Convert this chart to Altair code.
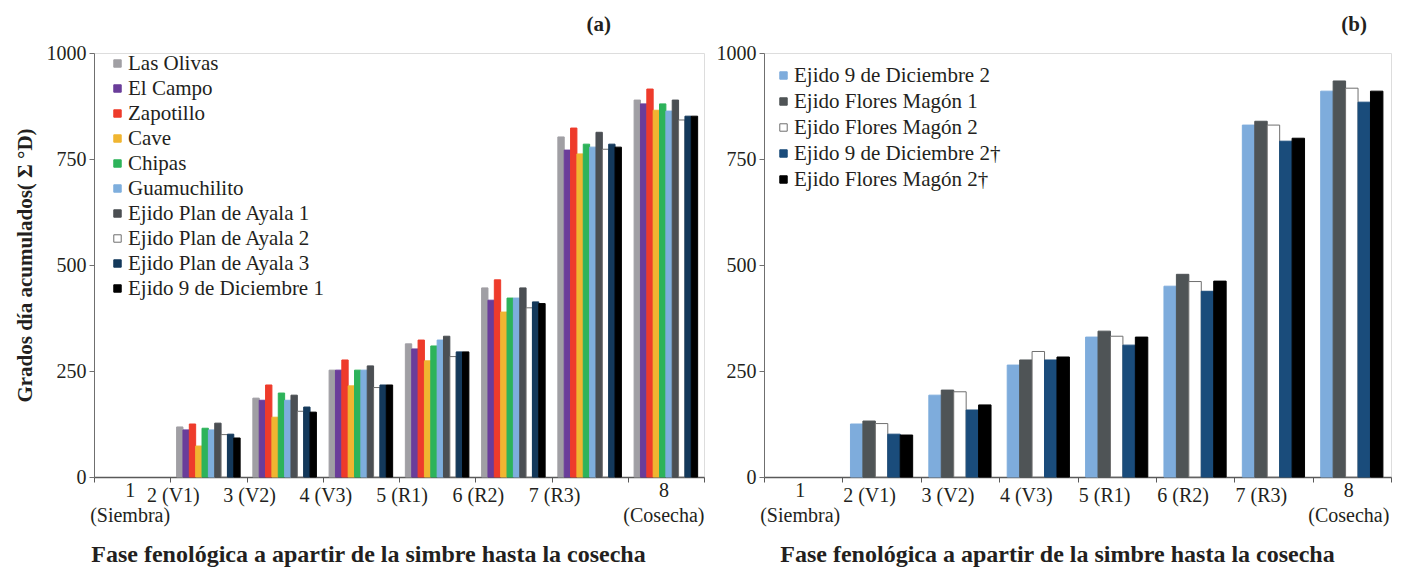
import altair as alt
import pandas as pd

FONT = "Liberation Serif"

stages = ["1\n(Siembra)", "2 (V1)", "3 (V2)", "4 (V3)", "5 (R1)", "6 (R2)", "7 (R3)", "8\n(Cosecha)"]

# Panel (a)
series_a = ["Las Olivas", "El Campo", "Zapotillo", "Cave", "Chipas", "Guamuchilito",
            "Ejido Plan de Ayala 1", "Ejido Plan de Ayala 2", "Ejido Plan de Ayala 3",
            "Ejido 9 de Diciembre 1"]
las_olivas = [0, 118, 186, 252, 314, 446, 802, 889]
el_campo = [0, 111, 181, 252, 302, 417, 771, 880]
zapotillo = [0, 125, 217, 276, 323, 465, 823, 915]
cave = [0, 73, 141, 215, 274, 389, 762, 865]
chipas = [0, 115, 198, 252, 309, 422, 785, 880]
guamuchilito = [0, 111, 181, 252, 323, 422, 778, 863]
epa1 = [0, 127, 193, 262, 332, 446, 813, 889]
epa2 = [0, 100, 155, 211, 284, 399, 773, 842]
epa3 = [0, 101, 165, 217, 295, 413, 785, 851]
e9d1 = [0, 92, 153, 217, 295, 409, 778, 851]
values_a = [las_olivas, el_campo, zapotillo, cave, chipas, guamuchilito, epa1, epa2, epa3, e9d1]
fills_a = ["#a09fa4", "#6a3d9a", "#ee3b2b", "#f0b531", "#2db35a", "#7eaedd",
           "#4b4f53", "#ffffff", "#14395b", "#000000"]
strokes_a = ["#a09fa4", "#6a3d9a", "#ee3b2b", "#f0b531", "#2db35a", "#7eaedd",
             "#4b4f53", "#6f6f6f", "#14395b", "#000000"]

# Panel (b)
series_b = ["Ejido 9 de Diciembre 2", "Ejido Flores Magón 1", "Ejido Flores Magón 2",
            "Ejido 9 de Diciembre 2†", "Ejido Flores Magón 2†"]
e9d2 = [0, 125, 193, 264, 330, 450, 830, 910]
efm1 = [0, 132, 205, 276, 344, 478, 839, 934]
efm2 = [0, 126, 201, 296, 332, 461, 830, 917]
e9d2d = [0, 101, 158, 276, 311, 438, 792, 884]
efm2d = [0, 99, 170, 283, 330, 462, 799, 910]
values_b = [e9d2, efm1, efm2, e9d2d, efm2d]
fills_b = ["#7eacdc", "#4f5456", "#ffffff", "#1a4c7b", "#000000"]
strokes_b = ["#7eacdc", "#4f5456", "#6f6f6f", "#1a4c7b", "#000000"]

x_title = "Fase fenológica a apartir de la simbre hasta la cosecha"
y_title = "Grados día acumulados( Σ °D)"

H = 424


def long_df(series, values):
    rows = []
    for s, vals in zip(series, values):
        for st, v in zip(stages, vals):
            rows.append({"stage": st, "series": s, "value": v})
    return pd.DataFrame(rows)


stage_df = pd.DataFrame({"stage": stages})


def panel(df, series, fills, strokes, label, width, sub_pad, legend_x, legend_y,
          row_pad, dx_mid, dx_end, title_dx, x_title_x, show_ytitle):
    legend = alt.Legend(
        title=None, orient="none", legendX=legend_x, legendY=legend_y,
        symbolType="square", symbolSize=55, symbolStrokeWidth=1,
        labelFont=FONT, labelFontSize=21, labelColor="#231f20",
        rowPadding=row_pad, labelLimit=400, labelOffset=0,
    )
    yaxis_kwargs = dict(
        values=[0, 250, 500, 750, 1000], format="d", grid=False, tickSize=5,
        tickColor="#6f6f6f", domainColor="#6f6f6f", labelFontSize=20,
        labelFont=FONT, labelColor="#231f20", labelPadding=3,
    )
    if show_ytitle:
        yaxis_kwargs.update(title=y_title, titleFont=FONT, titleFontSize=21,
                            titleFontWeight="bold", titleColor="#231f20",
                            titlePadding=11)
    else:
        yaxis_kwargs.update(title="")
    xaxis = alt.Axis(
        title=x_title, titleFont=FONT, titleFontSize=24, titleFontWeight="bold",
        titleColor="#231f20", titleX=x_title_x, titleY=84,
        titleBaseline="alphabetic", titleAnchor="middle",
        labels=False, tickSize=5, tickBand="extent", tickColor="#595959",
        domainColor="#595959", domainWidth=1.5,
    )
    xscale = alt.Scale(domain=stages, paddingInner=0, paddingOuter=0)
    bars = alt.Chart(df).transform_filter("datum.value > 0").mark_bar(strokeWidth=1).encode(
        x=alt.X("stage:N", sort=stages, scale=xscale, axis=xaxis),
        xOffset=alt.XOffset("series:N", sort=series,
                            scale=alt.Scale(domain=series, paddingInner=0,
                                            paddingOuter=sub_pad)),
        y=alt.Y("value:Q", scale=alt.Scale(domain=[0, 1000], nice=False),
                axis=alt.Axis(**yaxis_kwargs)),
        fill=alt.Fill("series:N", sort=series,
                      scale=alt.Scale(domain=series, range=fills), legend=legend),
        stroke=alt.Stroke("series:N", sort=series,
                          scale=alt.Scale(domain=series, range=strokes), legend=legend),
    )
    text_kw = dict(font=FONT, fontSize=20, color="#231f20", baseline="top",
                   align="center", lineBreak="\n", lineHeight=25)
    mid = alt.Chart(stage_df).transform_filter(
        "indexof(datum.stage, '\\n') < 0"
    ).mark_text(dx=dx_mid, **text_kw).encode(
        x=alt.X("stage:N", sort=stages), y=alt.value(H + 9), text="stage:N")
    ends = alt.Chart(stage_df).transform_filter(
        "indexof(datum.stage, '\\n') >= 0"
    ).mark_text(dx=dx_end, **text_kw).encode(
        x=alt.X("stage:N", sort=stages), y=alt.value(H + 4), text="stage:N")
    return alt.layer(bars, mid, ends).properties(
        width=width, height=H,
        title=alt.TitleParams(label, anchor="end", frame="group", dx=title_dx,
                              font=FONT, fontSize=21, fontWeight="bold",
                              color="#231f20", baseline="alphabetic", offset=-9),
    )


left = panel(long_df(series_a, values_a), series_a, fills_a, strokes_a, "(a)",
             610, 1.0, 13, 0, 3, -35, -2, -93, 274, True)
right = panel(long_df(series_b, values_b), series_b, fills_b, strokes_b, "(b)",
              627, 0.65, 9, 12, 4, -12, -3, -24, 293, False)

chart = alt.hconcat(left, right, spacing=60, bounds="flush").resolve_scale(
    fill="independent", stroke="independent", xOffset="independent"
).configure_view(stroke=None).configure(background="white")

chart.save("out.html", embed_options={"renderer": "svg", "actions": False})
